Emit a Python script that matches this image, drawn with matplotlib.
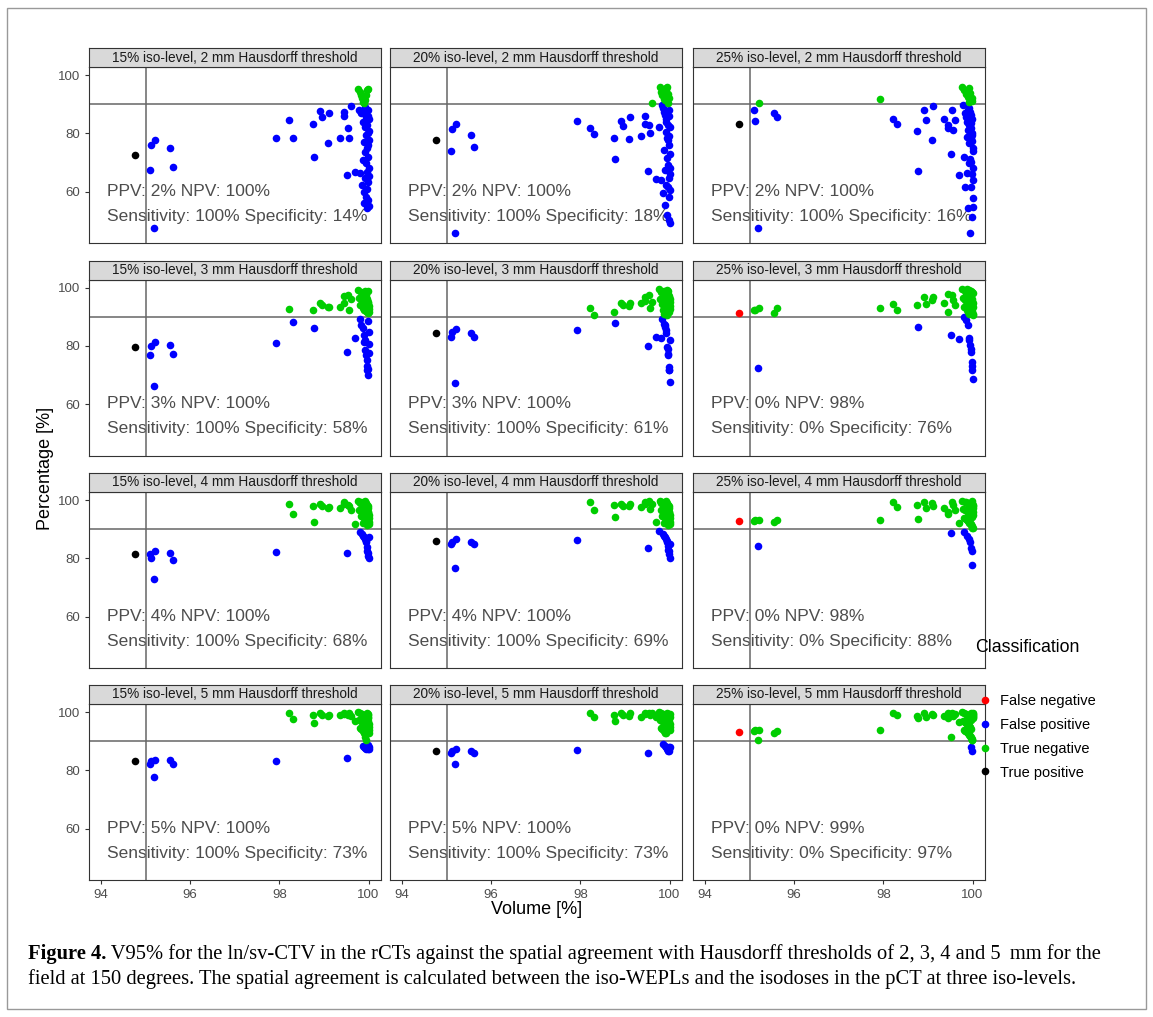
import numpy as np
import matplotlib.pyplot as plt
from matplotlib.lines import Line2D
from matplotlib.patches import Rectangle

W, H = 1153, 1017

iso_levels = ['15%', '20%', '25%']
thresholds = [2, 3, 4, 5]

# V95% per rCT: the single positive case, the group just above 95, the middle group, the column near 100
volume_pos = [94.77]
volume_a = [95.09, 95.11, 95.19, 95.21, 95.55, 95.61]
volume_mid = [97.93, 98.21, 98.31, 98.75, 98.77, 98.92, 98.95, 99.09, 99.12, 99.37,
              99.44, 99.46, 99.52, 99.55, 99.57, 99.60, 99.70]
volume_col = [99.76, 99.78, 99.80, 99.82, 99.83, 99.84, 99.85, 99.86, 99.87, 99.88,
              99.88, 99.89, 99.89, 99.90, 99.90, 99.91, 99.91, 99.92, 99.92, 99.93,
              99.93, 99.94, 99.94, 99.95, 99.95, 99.95, 99.96, 99.96, 99.96, 99.97,
              99.97, 99.97, 99.98, 99.98, 99.98, 99.98, 99.99, 99.99, 99.99, 99.99,
              100.0, 100.0, 100.0, 100.0, 100.0, 100.0]

# spatial agreement [%], same order as the volume lists
agree_15_2 = [72.7, 67.4, 75.9, 47.4, 77.7, 74.9, 68.6,
              78.6, 84.7, 78.6, 83.4, 71.8, 87.7, 85.5, 76.6, 87.1, 78.4, 85.9, 87.2, 65.7, 81.9, 78.6, 89.5, 66.9,
              95.1, 88.2, 66.3, 94.3, 86.9, 93.1, 62.3, 92.0, 70.9, 90.9,
              84.0, 90.3, 60.0, 77.1, 56.0, 89.0, 73.7, 82.3, 64.6, 91.4,
              87.5, 58.3, 79.4, 93.1, 69.7, 85.7, 61.1, 75.0, 54.3, 94.9,
              83.0, 66.9, 95.4, 57.1, 80.0, 88.0, 63.4, 72.0, 86.0, 76.0,
              81.0, 68.0, 77.7, 84.8, 65.5, 55.0]
agree_20_2 = [77.7, 74.1, 81.4, 45.7, 83.4, 79.5, 75.2,
              84.2, 81.7, 79.8, 78.6, 71.1, 84.2, 82.6, 78.1, 85.5, 79.1, 85.9, 83.4, 67.1, 82.9, 80.2, 90.5, 64.3,
              82.3, 96.0, 64.0, 94.3, 89.7, 93.1, 59.4, 88.6, 74.3, 91.7,
              87.4, 91.4, 55.4, 86.3, 67.4, 95.5, 85.1, 62.3, 80.6, 94.8,
              84.0, 71.4, 92.5, 52.0, 78.3, 96.0, 69.1, 90.6, 77.7, 83.0,
              61.7, 93.7, 88.0, 50.3, 64.6, 92.0, 86.0, 79.0, 58.3, 76.0,
              68.3, 73.0, 49.1, 66.0, 60.5, 82.3]
agree_25_2 = [83.2, 88.2, 84.2, 47.4, 90.3, 87.1, 85.5,
              91.8, 84.8, 83.2, 80.9, 67.1, 88.0, 84.6, 77.9, 89.4, 84.8, 82.9, 81.7, 72.8, 88.2, 81.1, 84.6, 65.7,
              96.0, 89.7, 72.0, 94.9, 86.9, 61.7, 85.7, 93.7, 78.9, 66.3,
              84.0, 92.6, 81.1, 54.3, 88.0, 90.9, 82.9, 76.6, 69.7, 95.5,
              88.6, 80.6, 71.2, 87.2, 45.7, 94.0, 83.5, 78.3, 61.5, 86.2,
              82.0, 70.3, 92.0, 85.0, 66.1, 80.0, 51.4, 79.5, 91.2, 77.5,
              54.9, 75.0, 74.0, 68.0, 64.0, 58.0]
agree_15_3 = [79.5, 76.9, 79.9, 66.1, 81.3, 80.3, 77.1,
              81.1, 92.7, 88.3, 92.3, 86.1, 94.8, 94.0, 93.5, 93.3, 93.5, 94.6, 97.1, 78.0, 97.5, 92.5, 96.0, 82.6,
              99.2, 96.5, 89.4, 94.0, 98.5, 87.2, 95.5, 97.8, 93.0, 86.0,
              97.0, 83.7, 96.0, 92.5, 81.4, 95.0, 99.0, 82.0, 94.5, 98.0,
              78.6, 93.5, 97.4, 76.8, 92.0, 96.8, 75.3, 91.5, 96.2, 73.0,
              95.8, 71.7, 91.2, 95.2, 70.0, 94.8, 98.8, 72.0, 94.2, 88.5,
              93.8, 84.8, 92.8, 77.5, 91.8, 80.5]
agree_20_3 = [84.3, 83.1, 84.9, 67.3, 85.8, 84.5, 83.1,
              85.4, 93.1, 90.6, 91.7, 88.0, 94.8, 94.0, 93.8, 94.8, 94.6, 95.5, 96.9, 79.9, 97.5, 93.0, 95.2, 83.1,
              99.5, 96.0, 82.6, 98.5, 94.5, 89.1, 97.0, 92.5, 91.0, 87.7,
              99.0, 86.6, 95.5, 98.0, 87.2, 93.5, 96.5, 85.4, 94.0, 97.5,
              84.3, 92.0, 99.2, 79.5, 95.0, 90.6, 78.8, 98.8, 93.0, 77.4,
              97.8, 76.8, 91.5, 96.8, 72.8, 95.8, 97.2, 71.9, 94.8, 71.7,
              96.2, 67.7, 93.8, 95.2, 82.0, 92.8]
agree_25_3 = [91.2, 92.3, 92.5, 72.6, 92.9, 91.4, 92.9,
              92.9, 94.3, 92.3, 94.0, 86.4, 96.9, 94.4, 95.8, 96.7, 94.8, 91.7, 97.8, 83.7, 97.5, 95.8, 94.0, 82.3,
              99.6, 96.4, 89.8, 93.2, 98.8, 95.6, 88.9, 97.6, 92.4, 99.4,
              94.8, 87.2, 98.0, 91.6, 96.0, 82.8, 99.2, 93.6, 97.2, 90.8,
              82.0, 95.2, 98.4, 80.3, 92.8, 96.8, 79.1, 94.4, 99.0, 78.0,
              91.2, 97.4, 74.5, 94.0, 98.6, 73.0, 92.0, 96.2, 71.9, 95.4,
              98.2, 68.8, 94.6, 93.4, 91.0, 90.5]
agree_15_4 = [81.6, 81.6, 80.2, 73.1, 82.4, 81.8, 79.5,
              82.3, 98.6, 95.2, 98.1, 92.4, 98.6, 98.0, 97.3, 97.7, 97.3, 98.6, 99.4, 81.9, 98.3, 98.1, 96.5, 91.8,
              99.8, 96.5, 98.9, 89.0, 94.5, 99.5, 88.4, 97.4, 92.0, 98.6,
              87.8, 96.2, 99.2, 94.0, 87.3, 98.3, 95.6, 86.7, 97.1, 99.6,
              93.5, 86.1, 98.0, 96.8, 85.6, 99.0, 95.3, 83.9, 97.7, 91.5,
              98.4, 82.7, 95.9, 97.9, 81.8, 95.0, 93.0, 81.0, 97.2, 96.0,
              80.2, 94.8, 93.8, 87.5, 92.5, 91.8]
agree_20_4 = [85.9, 85.0, 85.6, 76.8, 86.5, 85.8, 84.8,
              86.4, 99.2, 96.6, 98.4, 94.1, 98.6, 98.1, 98.0, 98.6, 97.5, 98.8, 99.2, 83.6, 99.8, 97.0, 98.6, 92.4,
              89.5, 99.8, 96.5, 98.9, 94.5, 99.5, 88.4, 97.4, 92.0, 98.6,
              87.8, 96.2, 99.2, 94.0, 87.3, 98.3, 95.6, 86.7, 97.1, 99.6,
              93.5, 86.1, 98.0, 96.8, 85.6, 99.0, 95.3, 84.4, 97.7, 91.5,
              98.4, 83.0, 95.9, 97.9, 82.5, 95.0, 93.0, 81.6, 97.2, 96.0,
              80.2, 94.8, 93.8, 85.0, 92.5, 91.8]
agree_25_4 = [92.7, 93.0, 93.1, 84.2, 93.2, 92.4, 93.2,
              93.2, 99.2, 97.5, 98.4, 93.5, 99.2, 97.3, 98.9, 98.0, 97.3, 95.2, 95.8, 88.6, 99.5, 98.2, 96.5, 92.0,
              99.8, 96.8, 93.8, 89.0, 99.5, 96.5, 93.5, 99.2, 96.2, 93.2,
              87.8, 98.9, 95.9, 92.9, 98.6, 95.6, 86.7, 92.6, 98.3, 95.3,
              92.3, 98.0, 85.6, 95.0, 92.0, 97.7, 94.7, 91.7, 83.6, 97.4,
              94.4, 91.4, 97.1, 94.1, 82.7, 91.0, 90.6, 99.6, 99.0, 77.6,
              98.4, 97.9, 97.2, 96.0, 94.8, 90.3]
agree_15_5 = [83.1, 82.3, 83.1, 77.9, 83.7, 83.5, 82.1,
              83.2, 99.7, 97.6, 99.1, 96.2, 99.7, 99.0, 98.6, 99.1, 99.1, 99.7, 99.4, 84.2, 99.0, 99.7, 98.8, 97.1,
              99.9, 97.2, 94.5, 99.6, 96.9, 94.2, 99.3, 96.6, 93.5, 88.4,
              99.0, 96.3, 93.0, 98.7, 88.0, 96.0, 92.5, 98.4, 95.7, 87.6,
              91.5, 98.1, 95.4, 87.3, 90.5, 97.8, 95.1, 99.8, 88.2, 97.5,
              94.8, 99.5, 87.8, 99.2, 98.9, 87.5, 98.5, 97.9, 88.6, 97.0,
              96.0, 87.9, 95.0, 94.0, 87.2, 92.8]
agree_20_5 = [86.7, 86.0, 86.7, 82.1, 87.3, 86.7, 86.0,
              86.9, 99.8, 98.5, 99.1, 97.1, 99.7, 99.1, 98.8, 99.7, 98.5, 99.3, 99.7, 86.1, 99.8, 98.9, 99.7, 98.3,
              99.9, 97.2, 94.5, 99.6, 96.9, 94.2, 99.3, 89.2, 96.6, 93.5,
              99.0, 96.3, 88.5, 93.0, 98.7, 96.0, 92.7, 88.0, 98.4, 95.7,
              98.1, 87.6, 95.4, 99.8, 97.8, 87.2, 95.1, 99.5, 97.5, 86.8,
              94.8, 99.2, 86.5, 98.9, 94.0, 88.2, 98.5, 97.9, 87.4, 97.0,
              96.0, 95.0, 87.9, 93.8, 99.4, 98.2]
agree_25_5 = [93.2, 93.5, 93.8, 90.4, 94.0, 93.0, 93.6,
              94.0, 99.8, 98.9, 98.8, 98.0, 99.6, 98.3, 99.2, 99.0, 98.8, 98.1, 99.6, 91.5, 99.8, 98.6, 99.2, 96.5,
              99.9, 96.9, 93.9, 99.6, 96.6, 93.6, 99.3, 96.3, 93.3, 99.0,
              96.0, 93.0, 98.7, 95.7, 92.7, 98.4, 95.4, 92.4, 98.1, 95.1,
              92.1, 97.8, 94.8, 91.8, 97.5, 94.5, 91.5, 97.2, 94.2, 88.2,
              91.2, 99.8, 90.9, 99.5, 90.6, 99.2, 90.3, 98.9, 86.5, 98.6,
              98.3, 98.0, 99.7, 99.4, 98.8, 99.1]

panels = [[agree_15_2, agree_20_2, agree_25_2],
          [agree_15_3, agree_20_3, agree_25_3],
          [agree_15_4, agree_20_4, agree_25_4],
          [agree_15_5, agree_20_5, agree_25_5]]

ppv_npv = [['PPV: 2% NPV: 100%', 'PPV: 2% NPV: 100%', 'PPV: 2% NPV: 100%'],
           ['PPV: 3% NPV: 100%', 'PPV: 3% NPV: 100%', 'PPV: 0% NPV: 98%'],
           ['PPV: 4% NPV: 100%', 'PPV: 4% NPV: 100%', 'PPV: 0% NPV: 98%'],
           ['PPV: 5% NPV: 100%', 'PPV: 5% NPV: 100%', 'PPV: 0% NPV: 99%']]
sens_spec = [['Sensitivity: 100% Specificity: 14%', 'Sensitivity: 100% Specificity: 18%',
              'Sensitivity: 100% Specificity: 16%'],
             ['Sensitivity: 100% Specificity: 58%', 'Sensitivity: 100% Specificity: 61%',
              'Sensitivity: 0% Specificity: 76%'],
             ['Sensitivity: 100% Specificity: 68%', 'Sensitivity: 100% Specificity: 69%',
              'Sensitivity: 0% Specificity: 88%'],
             ['Sensitivity: 100% Specificity: 73%', 'Sensitivity: 100% Specificity: 73%',
              'Sensitivity: 0% Specificity: 97%']]

classes = ['False negative', 'False positive', 'True negative', 'True positive']
class_colors = ['#FF0000', '#0000FF', '#00CD00', '#000000']

caption_bold = 'Figure 4.'
caption_1 = (' V95% for the ln/sv-CTV in the rCTs against the spatial agreement with Hausdorff '
             'thresholds of 2, 3, 4 and 5\u2009 mm for the')
caption_2 = ('field at 150 degrees. The spatial agreement is calculated between the iso-WEPLs and the '
             'isodoses in the pCT at three iso-levels.')

plt.rcParams['font.family'] = ['Liberation Sans', 'DejaVu Sans']
serif = ['Liberation Serif', 'DejaVu Serif']

fig = plt.figure(figsize=(W / 100, H / 100), dpi=100)


def px_box(x0, y0, w, h):
    # pixel box (top-left origin) -> figure fraction
    return [x0 / W, 1 - (y0 + h) / H, w / W, h / H]


col_left = [89, 390, 693]
row_top = [67, 279.5, 492, 704]
pw, ph, sh = 292, 176, 19

volume = np.array(volume_pos + volume_a + volume_mid + volume_col)
positive = volume < 95

for r in range(4):
    for c in range(3):
        ax = fig.add_axes(px_box(col_left[c], row_top[r], pw, ph))
        y = np.array(panels[r][c])
        low = y < 90
        cls = np.where(positive & low, 3, np.where(positive, 0, np.where(low, 1, 2)))

        ax.text(94.13, 60.2, ppv_npv[r][c], fontsize=12.5, color='#4D4D4D', va='center', zorder=1)
        ax.text(94.13, 51.6, sens_spec[r][c], fontsize=12.5, color='#4D4D4D', va='center', zorder=1)
        ax.axvline(95, color='#666666', lw=1.1, zorder=2)
        ax.axhline(90, color='#666666', lw=1.1, zorder=2)
        for k in range(4):
            m = cls == k
            ax.scatter(volume[m], y[m], s=30, c=class_colors[k], linewidths=0, zorder=3)

        ax.set_xlim(93.73, 100.28)
        ax.set_ylim(42.4, 102.8)
        ax.set_xticks([94, 96, 98, 100])
        ax.set_yticks([60, 80, 100])
        ax.tick_params(colors='#333333', labelcolor='#4D4D4D', labelsize=9.5, length=3, width=0.8)
        if r < 3:
            ax.tick_params(axis='x', length=0, labelbottom=False)
        if c > 0:
            ax.tick_params(axis='y', length=0, labelleft=False)
        for sp in ax.spines.values():
            sp.set_color('#333333')
            sp.set_linewidth(0.8)

        strip = fig.add_axes(px_box(col_left[c], row_top[r] - sh, pw, sh))
        strip.set_facecolor('#D9D9D9')
        strip.set_xticks([])
        strip.set_yticks([])
        for sp in strip.spines.values():
            sp.set_color('#333333')
            sp.set_linewidth(0.8)
        strip.text(0.5, 0.5, f'{iso_levels[c]} iso-level, {thresholds[r]} mm Hausdorff threshold',
                   transform=strip.transAxes, ha='center', va='center', fontsize=9.8, color='#1A1A1A')

fig.text(45 / W, 1 - 468 / H, 'Percentage [%]', rotation=90, ha='center', va='center', fontsize=13)
fig.text(537 / W, 1 - 909 / H, 'Volume [%]', ha='center', va='center', fontsize=13)

# legend
fig.text(975 / W, 1 - 648 / H, 'Classification', ha='left', va='center', fontsize=12.8)
handles = [Line2D([], [], ls='', marker='o', ms=5.5, mfc=col, mec='none') for col in class_colors]
fig.legend(handles, classes, loc='upper left', bbox_to_anchor=(970 / W, 1 - 688 / H),
           frameon=False, fontsize=10.5, labelspacing=0.68, handletextpad=0.45, handlelength=1.2,
           borderaxespad=0)

# caption
t1 = fig.text(28 / W, 1 - 959 / H, caption_bold, fontsize=14.8, fontweight='bold', family=serif)
fig.add_artist(plt.Annotation(caption_1, xy=(1, 0), xycoords=t1, va='bottom',
                              fontsize=14.8, family=serif))
fig.text(28 / W, 1 - 984 / H, caption_2, fontsize=14.8, family=serif)

fig.add_artist(Rectangle((7 / W, 1 - 1009 / H), 1139 / W, 1001 / H, transform=fig.transFigure,
                         fill=False, ec='#999999', lw=1))

fig.savefig('out.png', dpi=100)
